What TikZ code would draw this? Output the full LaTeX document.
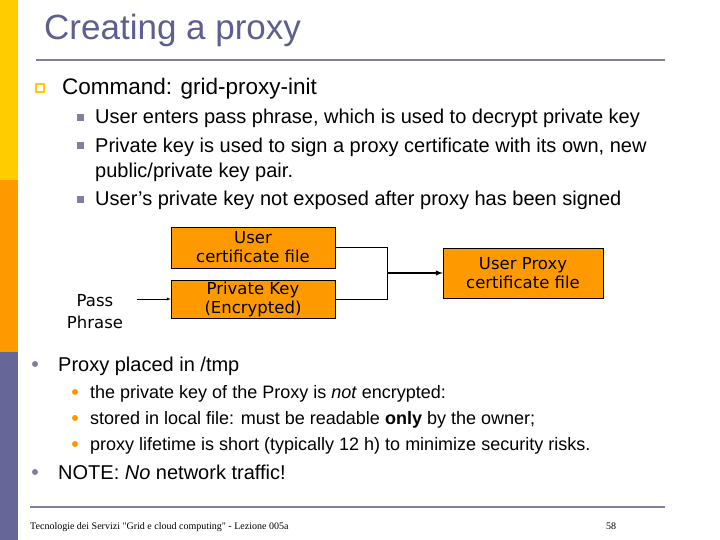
\documentclass[tikz,border=0pt]{standalone}
\usepackage{fontspec}
\setmainfont{Liberation Sans}
\newfontfamily\tah{DejaVu Sans}
\newfontfamily\ser{Liberation Serif}
\definecolor{barY}{HTML}{FFCC00}
\definecolor{barO}{HTML}{FF9900}
\definecolor{barP}{HTML}{666699}
\definecolor{ttl}{HTML}{5F5F8F}
\definecolor{gsq}{HTML}{7F7F9F}
\begin{document}
\begin{tikzpicture}[x=1pt,y=-1pt,
  txt/.style={anchor=base west,inner sep=0,font=\fontsize{20}{22}\selectfont},
  stxt/.style={anchor=base west,inner sep=0,font=\fontsize{18}{20}\selectfont},
  box/.style={draw=black,fill=barO,font=\tah\fontsize{16.5}{19}\selectfont,align=center,inner sep=0},
  sq/.style={fill=gsq,minimum size=7pt,inner sep=0},
  dot/.style={circle,inner sep=0,minimum size=6pt}]
\useasboundingbox (0,0) rectangle (720,540);
\fill[white] (0,0) rectangle (720,540);
\fill[barY] (0,0) rectangle (18,180);
\fill[barO] (0,180) rectangle (18,352);
\fill[barP] (0,352) rectangle (18,540);
\node[anchor=base west,inner sep=0,text=ttl,font=\fontsize{35}{38}\selectfont] (title) at (44,40) {Creating a proxy};
\draw[gsq,line width=1.5pt] (36,60) -- (665,60);
\node[draw=barY,line width=1.8pt,fill=white,minimum size=8pt,inner sep=0] (b1) at (40,88) {};
\node[txt,font=\fontsize{22.5}{24}\selectfont] (t1) at (62,95) {Command: grid-proxy-init};
\node[sq] (s1) at (80,118) {};
\node[txt] (t2) at (95,124) {User enters pass phrase, which is used to decrypt private key};
\node[sq] (s2) at (80,146) {};
\node[txt] (t3) at (95,153) {Private key is used to sign a proxy certificate with its own, new};
\node[txt] (t3b) at (95,178) {public/private key pair.};
\node[sq] (s3) at (80,200) {};
\node[txt] (t4) at (95,206) {User’s private key not exposed after proxy has been signed};
% diagram
\node[box,minimum width=164pt,minimum height=41pt] (uc) at (253,247.5) {User\\certificate file};
\node[box,minimum width=164pt,minimum height=38pt] (pk) at (253,299) {Private Key\\(Encrypted)};
\node[box,minimum width=160pt,minimum height=50pt] (up) at (523,273) {User Proxy\\certificate file};
\node[align=center,inner sep=0,font=\tah\fontsize{16.5}{22}\selectfont] (pp) at (95,312) {Pass\\Phrase};
\coordinate (j) at (387,273);
\draw[-latex] (137,299) coordinate (ps) -- (pk.west);
\draw (uc.east) -| (387,299) -- (pk.east);
\draw[line width=1.4pt,-latex] (j) -- (up.west);
% lower bullets
\node[dot,fill=gsq] (c1) at (35,364) {};
\node[txt] (t5) at (58,371) {Proxy placed in /tmp};
\node[dot,fill=barO] (c2) at (75,392) {};
\node[stxt] (t6) at (90,398) {the private key of the Proxy is \textit{not} encrypted:};
\node[dot,fill=barO] (c3) at (75,418) {};
\node[stxt] (t7) at (90,424) {stored in local file: must be readable \textbf{only} by the owner;};
\node[dot,fill=barO] (c4) at (75,444) {};
\node[stxt] (t8) at (90,450) {proxy lifetime is short (typically 12 h) to minimize security risks.};
\node[dot,fill=gsq] (c5) at (35,472) {};
\node[txt] (t9) at (58,479) {NOTE: \textit{No} network traffic!};
\draw[gsq,line width=1.2pt] (30,507) -- (665,507);
\node[anchor=base west,inner sep=0,font=\ser\fontsize{10}{12}\selectfont] (f1) at (30,529) {Tecnologie dei Servizi "Grid e cloud computing" - Lezione 005a};
\node[anchor=base west,inner sep=0,font=\ser\fontsize{10}{12}\selectfont] (f2) at (606,529) {58};
\end{tikzpicture}
\end{document}
